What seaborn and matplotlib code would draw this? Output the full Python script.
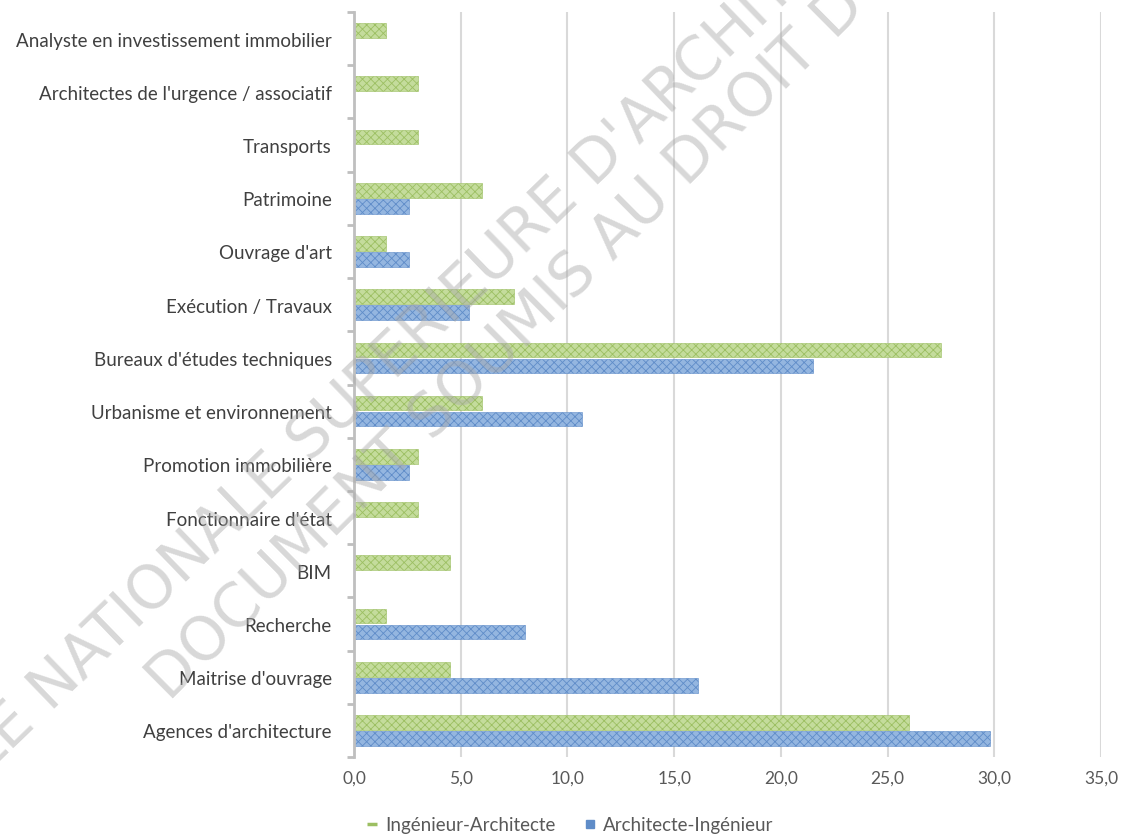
import numpy as np
import pandas as pd
import matplotlib
matplotlib.use("Agg")
import matplotlib.pyplot as plt
from matplotlib.lines import Line2D
from matplotlib.ticker import FuncFormatter, FixedLocator
from matplotlib.transforms import IdentityTransform
import seaborn as sns

categories = [
    "Analyste en investissement immobilier",
    "Architectes de l'urgence / associatif",
    "Transports",
    "Patrimoine",
    "Ouvrage d'art",
    "Exécution / Travaux",
    "Bureaux d'études techniques",
    "Urbanisme et environnement",
    "Promotion immobilière",
    "Fonctionnaire d'état",
    "BIM",
    "Recherche",
    "Maitrise d'ouvrage",
    "Agences d'architecture",
]
ingenieur_architecte = [1.5, 3.0, 3.0, 6.0, 1.5, 7.5, 27.5, 6.0, 3.0, 3.0, 4.5, 1.5, 4.5, 26.0]
architecte_ingenieur = [np.nan, np.nan, np.nan, 2.6, 2.6, 5.4, 21.5, 10.7, 2.6, np.nan, np.nan, 8.0, 16.1, 29.8]
series_names = ["Ingénieur-Architecte", "Architecte-Ingénieur"]
x_ticks = [0, 5, 10, 15, 20, 25, 30, 35]
watermark_lines = ["ECOLE NATIONALE SUPERIEURE D'ARCHITECTURE", "DOCUMENT SOUMIS AU DROIT D'AUTEUR"]

df = pd.DataFrame({
    "cat": categories * 2,
    "serie": [series_names[0]] * len(categories) + [series_names[1]] * len(categories),
    "val": ingenieur_architecte + architecte_ingenieur,
})

sns.set_theme(style="white")
plt.rcParams["font.family"] = ["Lato", "DejaVu Sans"]
plt.rcParams["hatch.linewidth"] = 0.6

face = {series_names[0]: "#c4dc9c", series_names[1]: "#94b6e0"}
hatchc = {series_names[0]: "#9cbf62", series_names[1]: "#5f8cc8"}

W, H = 1126, 837
fig = plt.figure(figsize=(W / 100, H / 100), dpi=100)
ax = fig.add_axes([354 / W, 1 - 758 / H, (1101 - 354) / W, (758 - 13) / H])

sns.barplot(data=df, y="cat", x="val", hue="serie", order=categories,
            hue_order=series_names, palette=face, orient="h",
            width=0.6, gap=0.08, ax=ax, legend=False, saturation=1)

for cont, name in zip(ax.containers, series_names):
    for p in cont:
        p.set_hatch("xxxx")
        p.set_edgecolor(hatchc[name])
        p.set_linewidth(0.4)

ax.set_xlim(0, 35)
ax.set_ylim(len(categories) - 0.5, -0.5)
ax.xaxis.set_major_locator(FixedLocator(x_ticks))
ax.xaxis.set_major_formatter(FuncFormatter(lambda v, p: f"{v:.1f}".replace(".", ",")))
ax.grid(axis="x", color="#d9d9d9", linewidth=1.5)
ax.set_axisbelow(True)
for s in ["top", "right", "bottom"]:
    ax.spines[s].set_visible(False)
ax.spines["left"].set_color("#bfbfbf")
ax.spines["left"].set_linewidth(2)
ax.set_xlabel("")
ax.set_ylabel("")

ax.tick_params(axis="x", length=0, pad=9, labelsize=12.5, labelcolor="#595959")
ax.tick_params(axis="y", which="major", length=0, pad=16, labelsize=13.5, labelcolor="#404040")
ax.set_yticks(np.arange(-0.5, len(categories), 1.0), minor=True)
ax.tick_params(axis="y", which="minor", length=5, width=2, color="#bfbfbf", left=True)

handles = [
    Line2D([], [], linestyle="none", marker="_", markersize=7, markeredgewidth=2.5,
           color=hatchc[series_names[0]]),
    Line2D([], [], linestyle="none", marker="s", markersize=6,
           color=hatchc[series_names[1]]),
]
leg = fig.legend(handles, series_names, loc="center", bbox_to_anchor=(570 / W, 1 - 826 / H),
                 ncol=2, frameon=False, fontsize=13.5, handlelength=0.6, handletextpad=0.4,
                 columnspacing=1.5)
for t in leg.get_texts():
    t.set_color("#595959")

# watermark placement (positions of two reference letters per line, in screen pixels)
renderer = fig.canvas.get_renderer()
wm_font = dict(family="DejaVu Sans", fontweight="normal")


def tw(s, size):
    t = fig.text(0, 0, s, fontsize=size, **wm_font)
    w = t.get_window_extent(renderer).width
    t.remove()
    return w


def cpos(text, idx, size):
    return tw(text[:idx + 1], size) - tw(text[idx], size) / 2


refs = [
    (watermark_lines[0], 6, (50, 682), 29, (640, 113)),
    (watermark_lines[1], 0, (172, 668), 19, (685, 158)),
]
sizes = []
for text, ia, pa, ib, pb in refs:
    pa_d = np.array([pa[0], H - pa[1]], float)
    pb_d = np.array([pb[0], H - pb[1]], float)
    sizes.append(10 * np.linalg.norm(pb_d - pa_d) / (cpos(text, ib, 10) - cpos(text, ia, 10)))
S = float(np.mean(sizes))
for text, ia, pa, ib, pb in refs:
    pa_d = np.array([pa[0], H - pa[1]], float)
    pb_d = np.array([pb[0], H - pb[1]], float)
    d = (pb_d - pa_d) / np.linalg.norm(pb_d - pa_d)
    n = np.array([-d[1], d[0]])
    ang = np.degrees(np.arctan2(d[1], d[0]))
    mid = (pa_d + pb_d) / 2
    cm = (cpos(text, ia, S) + cpos(text, ib, S)) / 2
    cap = 0.729 * S * 100 / 72
    anchor = mid - cm * d - (cap / 2) * n
    fig.text(anchor[0], anchor[1], text, transform=IdentityTransform(), rotation=ang,
             rotation_mode="anchor", ha="left", va="baseline", fontsize=S,
             color="#a8a8a8", alpha=0.45, zorder=10, **wm_font)

fig.savefig("out.png", dpi=100)
